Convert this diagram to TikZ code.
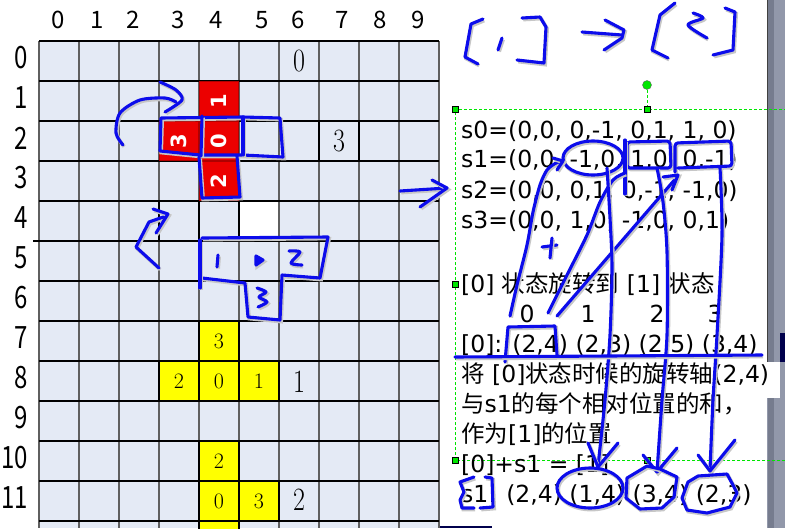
\documentclass[tikz,border=0pt]{standalone}
\usepackage{fontspec}
\usepackage{tikz}
\usetikzlibrary{positioning, arrows.meta, calc}
\newfontfamily\cjk{Noto Sans CJK SC}
\newfontfamily\dejavu{DejaVu Sans}
\definecolor{cellBg}{RGB}{228,234,245}
\definecolor{gridGray}{RGB}{95,95,95}
\definecolor{cellRed}{RGB}{236,0,0}
\definecolor{cellRim}{RGB}{175,0,0}
\definecolor{cellYellow}{RGB}{255,255,0}
\definecolor{inkBlue}{RGB}{12,12,235}
\definecolor{selGreen}{RGB}{0,230,0}
\definecolor{barGray}{RGB}{146,152,170}
\definecolor{barDark}{RGB}{118,124,142}

\begin{document}
\begin{tikzpicture}[
  x=1pt, y=-1pt,
  redcell/.style={minimum size=39pt, inner sep=0pt, fill=cellRed, draw=cellRim, line width=1.4pt,
    text=white, font=\dejavu\bfseries\fontsize{21}{21}\selectfont, rotate=90},
  yelcell/.style={minimum size=40pt, inner sep=0pt, fill=cellYellow, draw=black, line width=1.2pt,
    font=\fontsize{22}{22}\selectfont},
  bigdigit/.style={font=\fontsize{26}{26}\selectfont, yscale=1.25, inner sep=0pt},
  colnum/.style={font=\cjk\fontsize{24}{24}\selectfont, inner sep=0pt},
  rownum/.style={font=\cjk\fontsize{24}{24}\selectfont, yscale=1.28, inner sep=0pt, anchor=east},
  txt/.style={font=\dejavu\fontsize{23.5}{24}\selectfont, anchor=base west, inner sep=0pt},
  idx/.style={font=\dejavu\fontsize{23.5}{24}\selectfont, anchor=base, inner sep=0pt},
  ink/.style={draw=inkBlue, line width=3.1pt, line cap=round, line join=round,
    preaction={draw=black!22, line width=3.6pt, transform canvas={shift={(1.2pt,-1.6pt)}}}},
  sel/.style={draw=selGreen, dash pattern=on 3pt off 2pt, line width=0.9pt},
  handle/.style={draw=black, fill=selGreen, minimum size=6pt, inner sep=0pt, line width=0.4pt},
  knob/.style={circle, draw=black!60, fill=selGreen, minimum size=9pt, inner sep=0pt, line width=0.4pt},
]
  \useasboundingbox (0,0) rectangle (785,528);
  \fill[white] (0,0) rectangle (785,528);

  % board
  \fill[cellBg] (39,41) rectangle (439,528);
  \foreach \c in {0,...,10}
    \draw[gridGray, line width=1.3pt] (39+40*\c,41) -- (39+40*\c,528);
  \foreach \r in {0,...,12}
    \draw[black, line width=1.1pt] (39,41+40*\r) -- (439,41+40*\r);
  \draw[black, line width=1.1pt] (33,241) -- (39,241);
  \draw[black, line width=1.1pt] (319,121) rectangle (359,161);
  \draw[black, line width=1.1pt] (159,201) rectangle (239,241) (199,201) -- (199,241);
  \fill[white] (240,202) rectangle (278,240);

  \foreach \c/\x in {0/58,1/97,2/133,3/178,4/216,5/262,6/298,7/342,8/380,9/418}
    \node[colnum] (col\c) at (\x,20) {\c};
  \foreach \r in {0,...,11}
    \node[rownum] (row\r) at (28,58+40*\r) {\r};

  % falling piece
  \node[redcell] (red1) at (219,101) {1};
  \node[redcell] (red3) at (179,141) {3};
  \node[redcell] (red0) at (219,141) {0};
  \node[redcell] (red2) at (219,181) {2};

  % rotation states
  \node[yelcell] (a3) at (219,341) {3};
  \node[yelcell] (a2) at (179,381) {2};
  \node[yelcell] (a0) at (219,381) {0};
  \node[yelcell] (a1) at (259,381) {1};
  \node[yelcell] (b2) at (219,461) {2};
  \node[yelcell] (b0) at (219,501) {0};
  \node[yelcell] (b3) at (259,501) {3};
  \node[yelcell] (b4) at (219,541) {};

  \node[bigdigit] (st0) at (299,61) {0};
  \node[bigdigit] (st3) at (339,141) {3};
  \node[bigdigit] (st1) at (299,382) {1};
  \node[bigdigit] (st2) at (299,500) {2};

  % side bar
  \fill[barGray] (767,0) rectangle (785,528);
  \fill[barDark] (768,0) rectangle (774,528);
  \draw[black!75, line width=0.8pt] (767,0) -- (767,362);
  \fill[white] (767,362) rectangle (780,398);
  \fill[black!70!blue] (780,333) rectangle (785,362);
  \fill[black!70!blue] (440,526) rectangle (492,528);

  % selection frame
  \coordinate (selTL) at (455,109);
  \coordinate (selTM) at (647,109);
  \coordinate (selTR) at (785,109);
  \coordinate (selML) at (455,284);
  \coordinate (selBL) at (455,460);
  \coordinate (selBM) at (647,460);
  \coordinate (selBR) at (785,460);
  \coordinate (selKn) at (647,85);
  \draw[sel] (selBR) -- (selBL) -- (selTL) -- (selTR);
  \draw[sel] (selKn) -- (selTM);
  \node[handle] (hTL) at (selTL) {};
  \node[handle] (hTM) at (selTM) {};
  \node[handle] (hML) at (selML) {};
  \node[handle] (hBL) at (selBL) {};
  \node[handle] (hBM) at (selBM) {};
  \node[knob] (hKn) at (selKn) {};

  % notes
  \node[txt] (s0) at (461,138) {s0=(0,0, 0,-1, 0,1, 1, 0)};
  \node[txt] (s1) at (461,167) {s1=(0,0, -1,0, 1,0, 0,-1)};
  \node[txt] (s2) at (461,198) {s2=(0,0, 0,1, 0,-1, -1,0)};
  \node[txt] (s3) at (461,228) {s3=(0,0, 1,0, -1,0, 0,1)};
  \node[txt] (title) at (461,292) {[0] {\cjk 状态旋转到} [1] {\cjk 状态}};
  \node[idx] (i0) at (527,322) {0};
  \node[idx] (i1) at (588,322) {1};
  \node[idx] (i2) at (657,322) {2};
  \node[idx] (i3) at (715,322) {3};
  \node[txt] (pos0) at (461,352) {[0]: (2,4) (2,3) (2,5) (3,4)};
  \node[txt] (note1) at (461,382) {{\cjk 将} [0]{\cjk 状态时候的旋转轴}(2,4)};
  \node[txt] (note2) at (461,412) {{\cjk 与}s1{\cjk 的每个相对位置的和，}};
  \node[txt] (note3) at (461,442) {{\cjk 作为}[1]{\cjk 的位置}};
  \node[txt] (sum) at (461,472) {[0]+s1 = [1]};
  \node[txt] (res) at (461,502) {s1: (2,4) (1,4) (3,4) (2,3)};

  % pen marks: [1] -> [2]
  \draw[ink] (483,19) -- (471,24) -- (465,57) -- (478,64);
  \draw[ink] (502,38) -- (498,50);
  \draw[ink] (522,18) -- (540,17) -- (546,27) -- (544,63) -- (517,60);
  \draw[ink] (582,32) -- (622,35);
  \draw[ink] (605,20) -- (624,30) -- (622,38) -- (604,50);
  \draw[ink] (675,3) -- (660,15) -- (652,50) -- (668,58);
  \draw[ink] plot[smooth] coordinates {(693,13) (703,18) (688,25) (707,38)};
  \draw[ink] (725,8) -- (735,12) -- (733,50) -- (713,55);

  % pen marks: board
  \draw[ink] plot[smooth] coordinates {(123,145) (116,133) (120,113) (140,100) (165,98) (176,102)};
  \draw[ink] plot[smooth] coordinates {(160,82) (176,90) (182,100) (165,112)};
  \draw[ink] (161,118) -- (243,117) -- (280,118) -- (283,157) -- (243,155) -- (200,155) -- (160,151) -- cycle;
  \draw[ink] (202,116) -- (201,156);
  \draw[ink] (243,117) -- (243,155);
  \draw[ink] (199,157) -- (202,198) -- (240,197) -- (237,156);
  \draw[ink] (159,268) -- (136,247) -- (149,222) -- (166,216);
  \draw[ink] (153,209) -- (168,214) -- (156,233);
  \draw[ink] (202,238) -- (328,237) -- (320,278) -- (282,275) -- (280,320) -- (248,317) -- (245,283) -- (202,278);
  \draw[ink] (200,240) -- (200,288);
  \draw[ink] (218,255) -- (217,267);
  \draw[ink, fill=inkBlue] (256,256) -- (263,260) -- (256,265) -- cycle;
  \draw[ink] plot[smooth] coordinates {(289,251) (300,252) (291,263) (302,265)};
  \draw[ink] plot[smooth] coordinates {(257,288) (266,292) (259,297) (267,302) (258,307)};
  \draw[ink] (400,191) -- (447,188);
  \draw[ink] (432,180) -- (447,188) -- (420,207);

  % pen marks: notes
  \draw[ink] (593,158) ellipse [x radius=30pt, y radius=17pt];
  \draw[ink, rounded corners=3pt] (627,142) -- (670,141) -- (671,168) -- (627,168) -- cycle;
  \draw[ink] (625,140) -- (625,194);
  \draw[ink, rounded corners=3pt] (675,172) -- (675,143) -- (731,141) -- (732,166) -- (678,168);
  \draw[ink] plot[smooth] coordinates {(510,316) (517,285) (527,245) (533,212) (540,185) (547,170) (556,163) (563,161)};
  \draw[ink] (553,158) -- (563,161) -- (557,170);
  \draw[ink] plot[smooth] coordinates {(548,313) (567,275) (587,235) (600,202) (613,180) (625,173)};
  \draw[ink] (557,316) -- (677,177);
  \draw[ink] (663,177) -- (678,175) -- (672,190);
  \draw[ink] (542,247) -- (557,245);
  \draw[ink] (552,238) -- (550,258);
  \draw[ink] plot[smooth] coordinates {(607,168) (610,218) (612,268) (610,335) (605,400) (598,466)};
  \draw[ink] (588,443) -- (598,467) -- (618,443);
  \draw[ink] plot[smooth] coordinates {(657,168) (663,202) (667,252) (667,335) (662,400) (657,472)};
  \draw[ink] (643,455) -- (657,472) -- (677,448);
  \draw[ink] plot[smooth] coordinates {(720,168) (722,235) (717,335) (713,400) (710,470)};
  \draw[ink] (698,455) -- (710,471) -- (735,440);
  \draw[ink] (505,362) -- (508,327) -- (555,326) -- (557,355);
  \draw[ink] (455,357) -- (762,355);
  \draw[ink] (590,488) ellipse [x radius=33pt, y radius=20pt];
  \draw[ink] (627,478) -- (647,466) -- (660,469) -- (677,477) -- (674,497) -- (662,508) -- (640,509) -- (626,498) -- cycle;
  \draw[ink] (688,482) -- (698,476) -- (727,474) -- (733,485) -- (737,493) -- (730,507) -- (707,513) -- (687,510) -- (682,498) -- cycle;
  \draw[ink] (474,477) -- (460,482) -- (464,492) -- (460,500) -- (462,508) -- (474,508);
  \draw[ink] (485,477) -- (492,478) -- (493,507) -- (480,508);
\end{tikzpicture}
\end{document}
